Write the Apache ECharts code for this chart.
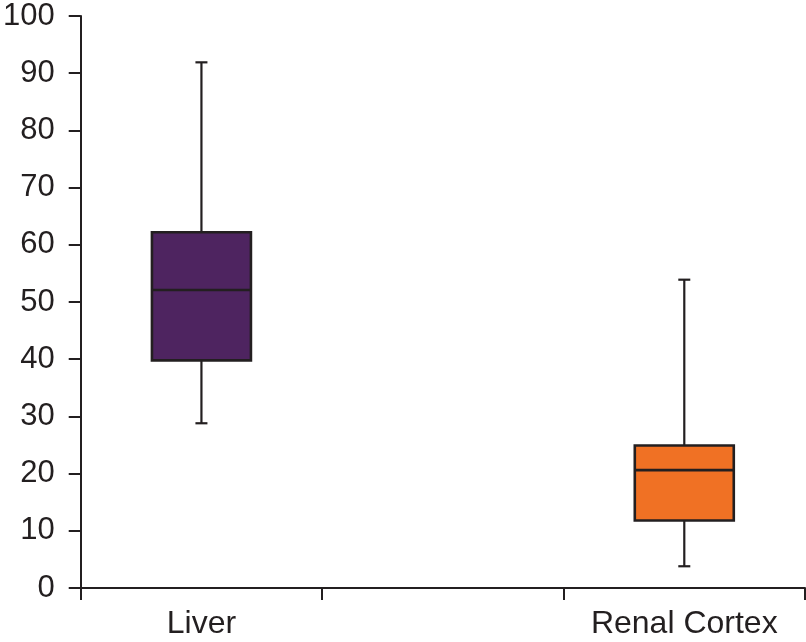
<!DOCTYPE html>
<html>
<head>
<meta charset="utf-8">
<script src="https://cdn.jsdelivr.net/npm/echarts@6/dist/echarts.min.js"></script>
<style>
html,body{margin:0;padding:0;background:#fff;}
#chart{width:806px;height:642px;}
</style>
</head>
<body>
<div id="chart"></div>
<script>
// ---- data ----
var categories = ['Liver', '', 'Renal Cortex'];
var minVals    = [28.8, null, 3.8];
var q1Vals     = [39.8, null, 11.8];
var medianVals = [52.1, null, 20.6];
var q3Vals     = [62.2, null, 24.9];
var maxVals    = [91.9, null, 53.9];
var yTicks     = [0, 10, 20, 30, 40, 50, 60, 70, 80, 90, 100];

// ---- styles ----
var boxColors = ['#4E2460', null, '#F07124'];
var ink = '#231F20';
var font = 'Liberation Sans, Arial, sans-serif';

var rows = [];
for (var i = 0; i < categories.length; i++) {
  if (minVals[i] == null) continue;
  rows.push([i, minVals[i], q1Vals[i], medianVals[i], q3Vals[i], maxVals[i]]);
}

function renderItem(params, api) {
  var idx = api.value(0);
  var pMin = api.coord([idx, api.value(1)]);
  var pQ1 = api.coord([idx, api.value(2)]);
  var pMed = api.coord([idx, api.value(3)]);
  var pQ3 = api.coord([idx, api.value(4)]);
  var pMax = api.coord([idx, api.value(5)]);
  var band = api.size([1, 0])[0];
  var half = band * 0.205;
  var cap = 6;
  var cx = pMed[0];
  var lineStyle = {stroke: ink, lineWidth: 2.2};
  return {
    type: 'group',
    children: [
      {type: 'line', shape: {x1: cx, y1: pMax[1], x2: cx, y2: pQ3[1]}, style: lineStyle},
      {type: 'line', shape: {x1: cx, y1: pQ1[1], x2: cx, y2: pMin[1]}, style: lineStyle},
      {type: 'line', shape: {x1: cx - cap, y1: pMax[1], x2: cx + cap, y2: pMax[1]}, style: lineStyle},
      {type: 'line', shape: {x1: cx - cap, y1: pMin[1], x2: cx + cap, y2: pMin[1]}, style: lineStyle},
      {type: 'rect', shape: {x: cx - half, y: pQ3[1], width: half * 2, height: pQ1[1] - pQ3[1]},
       style: {fill: boxColors[idx], stroke: ink, lineWidth: 2.6}},
      {type: 'line', shape: {x1: cx - half, y1: pMed[1], x2: cx + half, y2: pMed[1]}, style: {stroke: ink, lineWidth: 2.6}}
    ]
  };
}

var chart = echarts.init(document.getElementById('chart'), null, {renderer: 'canvas'});
chart.setOption({
  animation: false,
  backgroundColor: '#ffffff',
  grid: {left: 78, right: 1, top: 16, bottom: 54, containLabel: false},
  xAxis: {
    type: 'category',
    data: categories,
    boundaryGap: true,
    axisLine: {show: true, lineStyle: {color: ink, width: 2}},
    axisTick: {show: true, length: 12, alignWithLabel: false, interval: 0, lineStyle: {color: ink, width: 2}},
    axisLabel: {fontSize: 32, color: ink, fontFamily: font, margin: 20, interval: 0},
    splitLine: {show: false}
  },
  yAxis: {
    type: 'value',
    min: yTicks[0],
    max: yTicks[yTicks.length - 1],
    interval: yTicks[1] - yTicks[0],
    axisLine: {show: true, lineStyle: {color: ink, width: 2}},
    axisTick: {show: true, length: 12, lineStyle: {color: ink, width: 2}},
    axisLabel: {fontSize: 31, color: ink, fontFamily: font, margin: 26},
    splitLine: {show: false}
  },
  series: [{
    type: 'custom',
    renderItem: renderItem,
    data: rows,
    encode: {x: 0, y: [1, 2, 3, 4, 5]},
    clip: false
  }]
});
</script>
</body>
</html>
